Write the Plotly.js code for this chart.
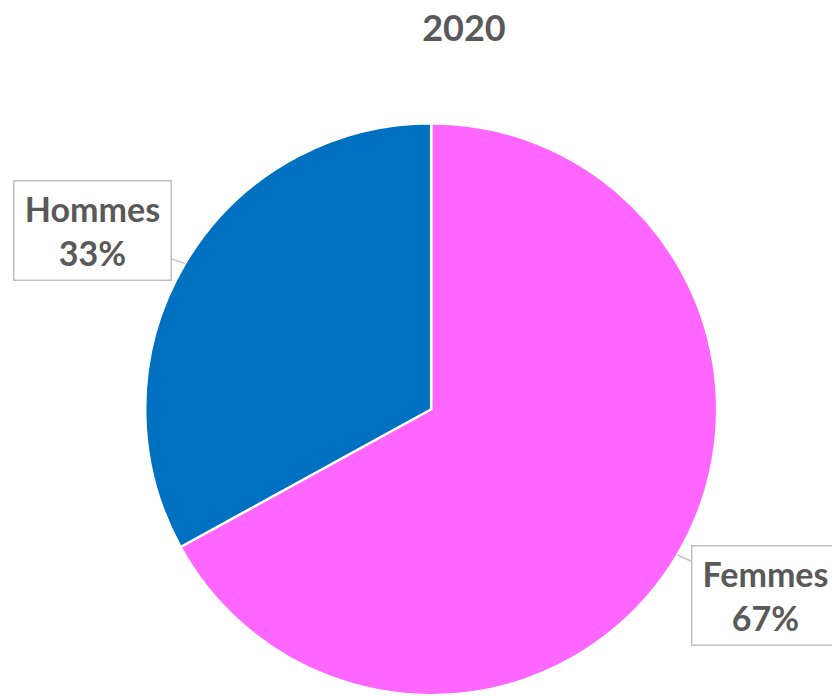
<!DOCTYPE html>
<html><head><meta charset="utf-8">
<script src="https://cdn.plot.ly/plotly-3.0.1.min.js"></script>
<style>html,body{margin:0;padding:0;background:#fff;}#chart{width:832px;height:696px;}</style>
</head><body><div id="chart"></div>
<script>
const chartTitle = "2020";
const categories = ["Femmes", "Hommes"];
const shares = [67, 33];
const colors = ["#FF66FF", "#0070C0"];

const W = 832, H = 696;
const dom = {x: [0.1745, 0.862], y: [0, 0.824]};
// label box centers (pixels) and sizes
const boxCenters = [[765, 595], [92, 231]];
const boxSizes = [[146, 98], [156, 98]];

const total = shares.reduce((a, b) => a + b, 0);
const cx = (dom.x[0] + dom.x[1]) / 2 * W;
const cy = H - (dom.y[0] + dom.y[1]) / 2 * H;
const R = Math.min((dom.x[1] - dom.x[0]) * W, (dom.y[1] - dom.y[0]) * H) / 2;

let cum = 0;
const annotations = [];
categories.forEach((c, i) => {
  const mid = (cum + shares[i] / 2) / total * 2 * Math.PI; // clockwise from top
  cum += shares[i];
  const tx = cx + R * Math.sin(mid);
  const ty = cy - R * Math.cos(mid);
  annotations.push({
    xref: 'paper', yref: 'paper',
    x: tx / W, y: 1 - ty / H,
    ax: boxCenters[i][0] - tx, ay: boxCenters[i][1] - ty,
    axref: 'pixel', ayref: 'pixel',
    showarrow: true, arrowhead: 0, arrowwidth: 1.5, arrowcolor: '#BFBFBF', standoff: 0,
    text: '<b>' + c + '<br>' + Math.round(shares[i] / total * 100) + '%</b>',
    font: {family: 'Lato, sans-serif', size: 34, color: '#595959'},
    align: 'center',
    bgcolor: '#FFFFFF', bordercolor: '#BFBFBF', borderwidth: 1.5, borderpad: 0,
    width: boxSizes[i][0], height: boxSizes[i][1]
  });
});

const data = [{
  type: 'pie',
  labels: categories,
  values: shares,
  sort: false,
  direction: 'clockwise',
  rotation: 0,
  marker: {colors: colors, line: {color: '#FFFFFF', width: 2.5}},
  textinfo: 'none',
  hoverinfo: 'label+percent',
  domain: dom,
  showlegend: false
}];

const layout = {
  width: W, height: H,
  margin: {l: 0, r: 0, t: 0, b: 0},
  paper_bgcolor: '#FFFFFF',
  title: {
    text: '<b>' + chartTitle + '</b>',
    font: {family: 'Lato, sans-serif', size: 36, color: '#595959'},
    x: 464 / W, xanchor: 'center', xref: 'paper',
    y: 1 - 28 / H, yanchor: 'middle', yref: 'container'
  },
  annotations: annotations,
  showlegend: false
};

Plotly.newPlot('chart', data, layout, {displayModeBar: false, staticPlot: true});
</script>
</body></html>
